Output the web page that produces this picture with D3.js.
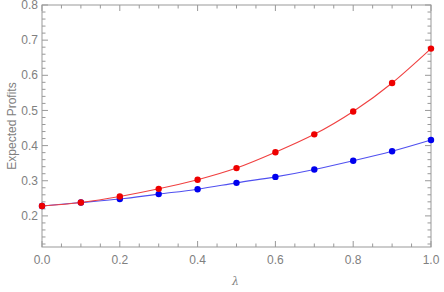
<!DOCTYPE html>
<html>
<head>
<meta charset="utf-8">
<script src="https://cdn.jsdelivr.net/npm/d3@7"></script>
<style>
  body { margin: 0; background: #fff; }
  text { font-family: 'Liberation Sans', Arial, sans-serif; }
  .tick-label { fill: #808080; font-size: 12px; }
</style>
</head>
<body>
<svg width="444" height="292"></svg>
<script>
const lambdas = [0, 0.1, 0.2, 0.3, 0.4, 0.5, 0.6, 0.7, 0.8, 0.9, 1.0];
const redProfits = [0.228, 0.238, 0.255, 0.277, 0.303, 0.336, 0.381, 0.432, 0.497, 0.578, 0.676];
const blueProfits = [0.228, 0.238, 0.248, 0.262, 0.276, 0.294, 0.311, 0.332, 0.357, 0.384, 0.416];
const xTicks = [0, 0.2, 0.4, 0.6, 0.8, 1.0];
const yTicks = [0.2, 0.3, 0.4, 0.5, 0.6, 0.7, 0.8];

const svg = d3.select('svg');
const margin = { top: 5, right: 13, bottom: 45, left: 42 };
const width = +svg.attr('width') - margin.left - margin.right;
const height = +svg.attr('height') - margin.top - margin.bottom;

const x = d3.scaleLinear().domain([0, 1]).range([0, width]);
const y = d3.scaleLinear().domain([0.1115, 0.8]).range([height, 0]);

const g = svg.append('g').attr('transform', `translate(${margin.left},${margin.top})`);

const axisColor = '#999';

// frame
g.append('rect')
  .attr('width', width)
  .attr('height', height)
  .attr('fill', 'none')
  .attr('stroke', axisColor)
  .attr('stroke-width', 1);

// ticks on all four sides
const xMinor = d3.range(0, 1.0001, 0.05);
const yMinor = d3.range(0.12, 0.8001, 0.02);
function isMajor(v, arr) { return arr.some(t => Math.abs(t - v) < 1e-6); }

xMinor.forEach(v => {
  const len = isMajor(v, xTicks) ? 6 : 3.5;
  g.append('line').attr('x1', x(v)).attr('x2', x(v)).attr('y1', height).attr('y2', height - len).attr('stroke', axisColor);
  g.append('line').attr('x1', x(v)).attr('x2', x(v)).attr('y1', 0).attr('y2', len).attr('stroke', axisColor);
});
yMinor.forEach(v => {
  const len = isMajor(v, yTicks) ? 6 : 3.5;
  g.append('line').attr('y1', y(v)).attr('y2', y(v)).attr('x1', 0).attr('x2', len).attr('stroke', axisColor);
  g.append('line').attr('y1', y(v)).attr('y2', y(v)).attr('x1', width).attr('x2', width - len).attr('stroke', axisColor);
});

g.selectAll('.xlab')
  .data(xTicks)
  .enter()
  .append('text')
  .attr('class', 'tick-label')
  .attr('x', d => x(d))
  .attr('y', height + 16.5)
  .attr('text-anchor', 'middle')
  .text(d => d.toFixed(1));

g.selectAll('.ylab')
  .data(yTicks)
  .enter()
  .append('text')
  .attr('class', 'tick-label')
  .attr('x', -4)
  .attr('y', d => y(d))
  .attr('dy', '0.35em')
  .attr('text-anchor', 'end')
  .text(d => d.toFixed(1));

// axis titles
svg.append('text')
  .attr('transform', `translate(16,${margin.top + height / 2}) rotate(-90)`)
  .attr('text-anchor', 'middle')
  .attr('fill', '#808080')
  .attr('font-size', '12px')
  .text('Expected Profits');

svg.append('text')
  .attr('x', margin.left + width / 2 - 1)
  .attr('y', 285)
  .attr('text-anchor', 'middle')
  .attr('fill', '#808080')
  .attr('font-size', '11px')
  .attr('font-style', 'italic')
  .style('font-family', 'DejaVu Serif, serif')
  .text('λ');

const line = d3.line()
  .x(d => x(d[0]))
  .y(d => y(d[1]))
  .curve(d3.curveNatural);

const series = [
  { values: blueProfits, stroke: '#5050f0', fill: '#0000ee' },
  { values: redProfits, stroke: '#f04040', fill: '#ee0000' },
];

series.forEach(s => {
  const pts = lambdas.map((l, i) => [l, s.values[i]]);
  g.append('path')
    .datum(pts)
    .attr('fill', 'none')
    .attr('stroke', s.stroke)
    .attr('stroke-width', 1.1)
    .attr('d', line);
  g.selectAll(null)
    .data(pts)
    .enter()
    .append('circle')
    .attr('cx', d => x(d[0]))
    .attr('cy', d => y(d[1]))
    .attr('r', 3.2)
    .attr('fill', s.fill);
});
</script>
</body>
</html>
